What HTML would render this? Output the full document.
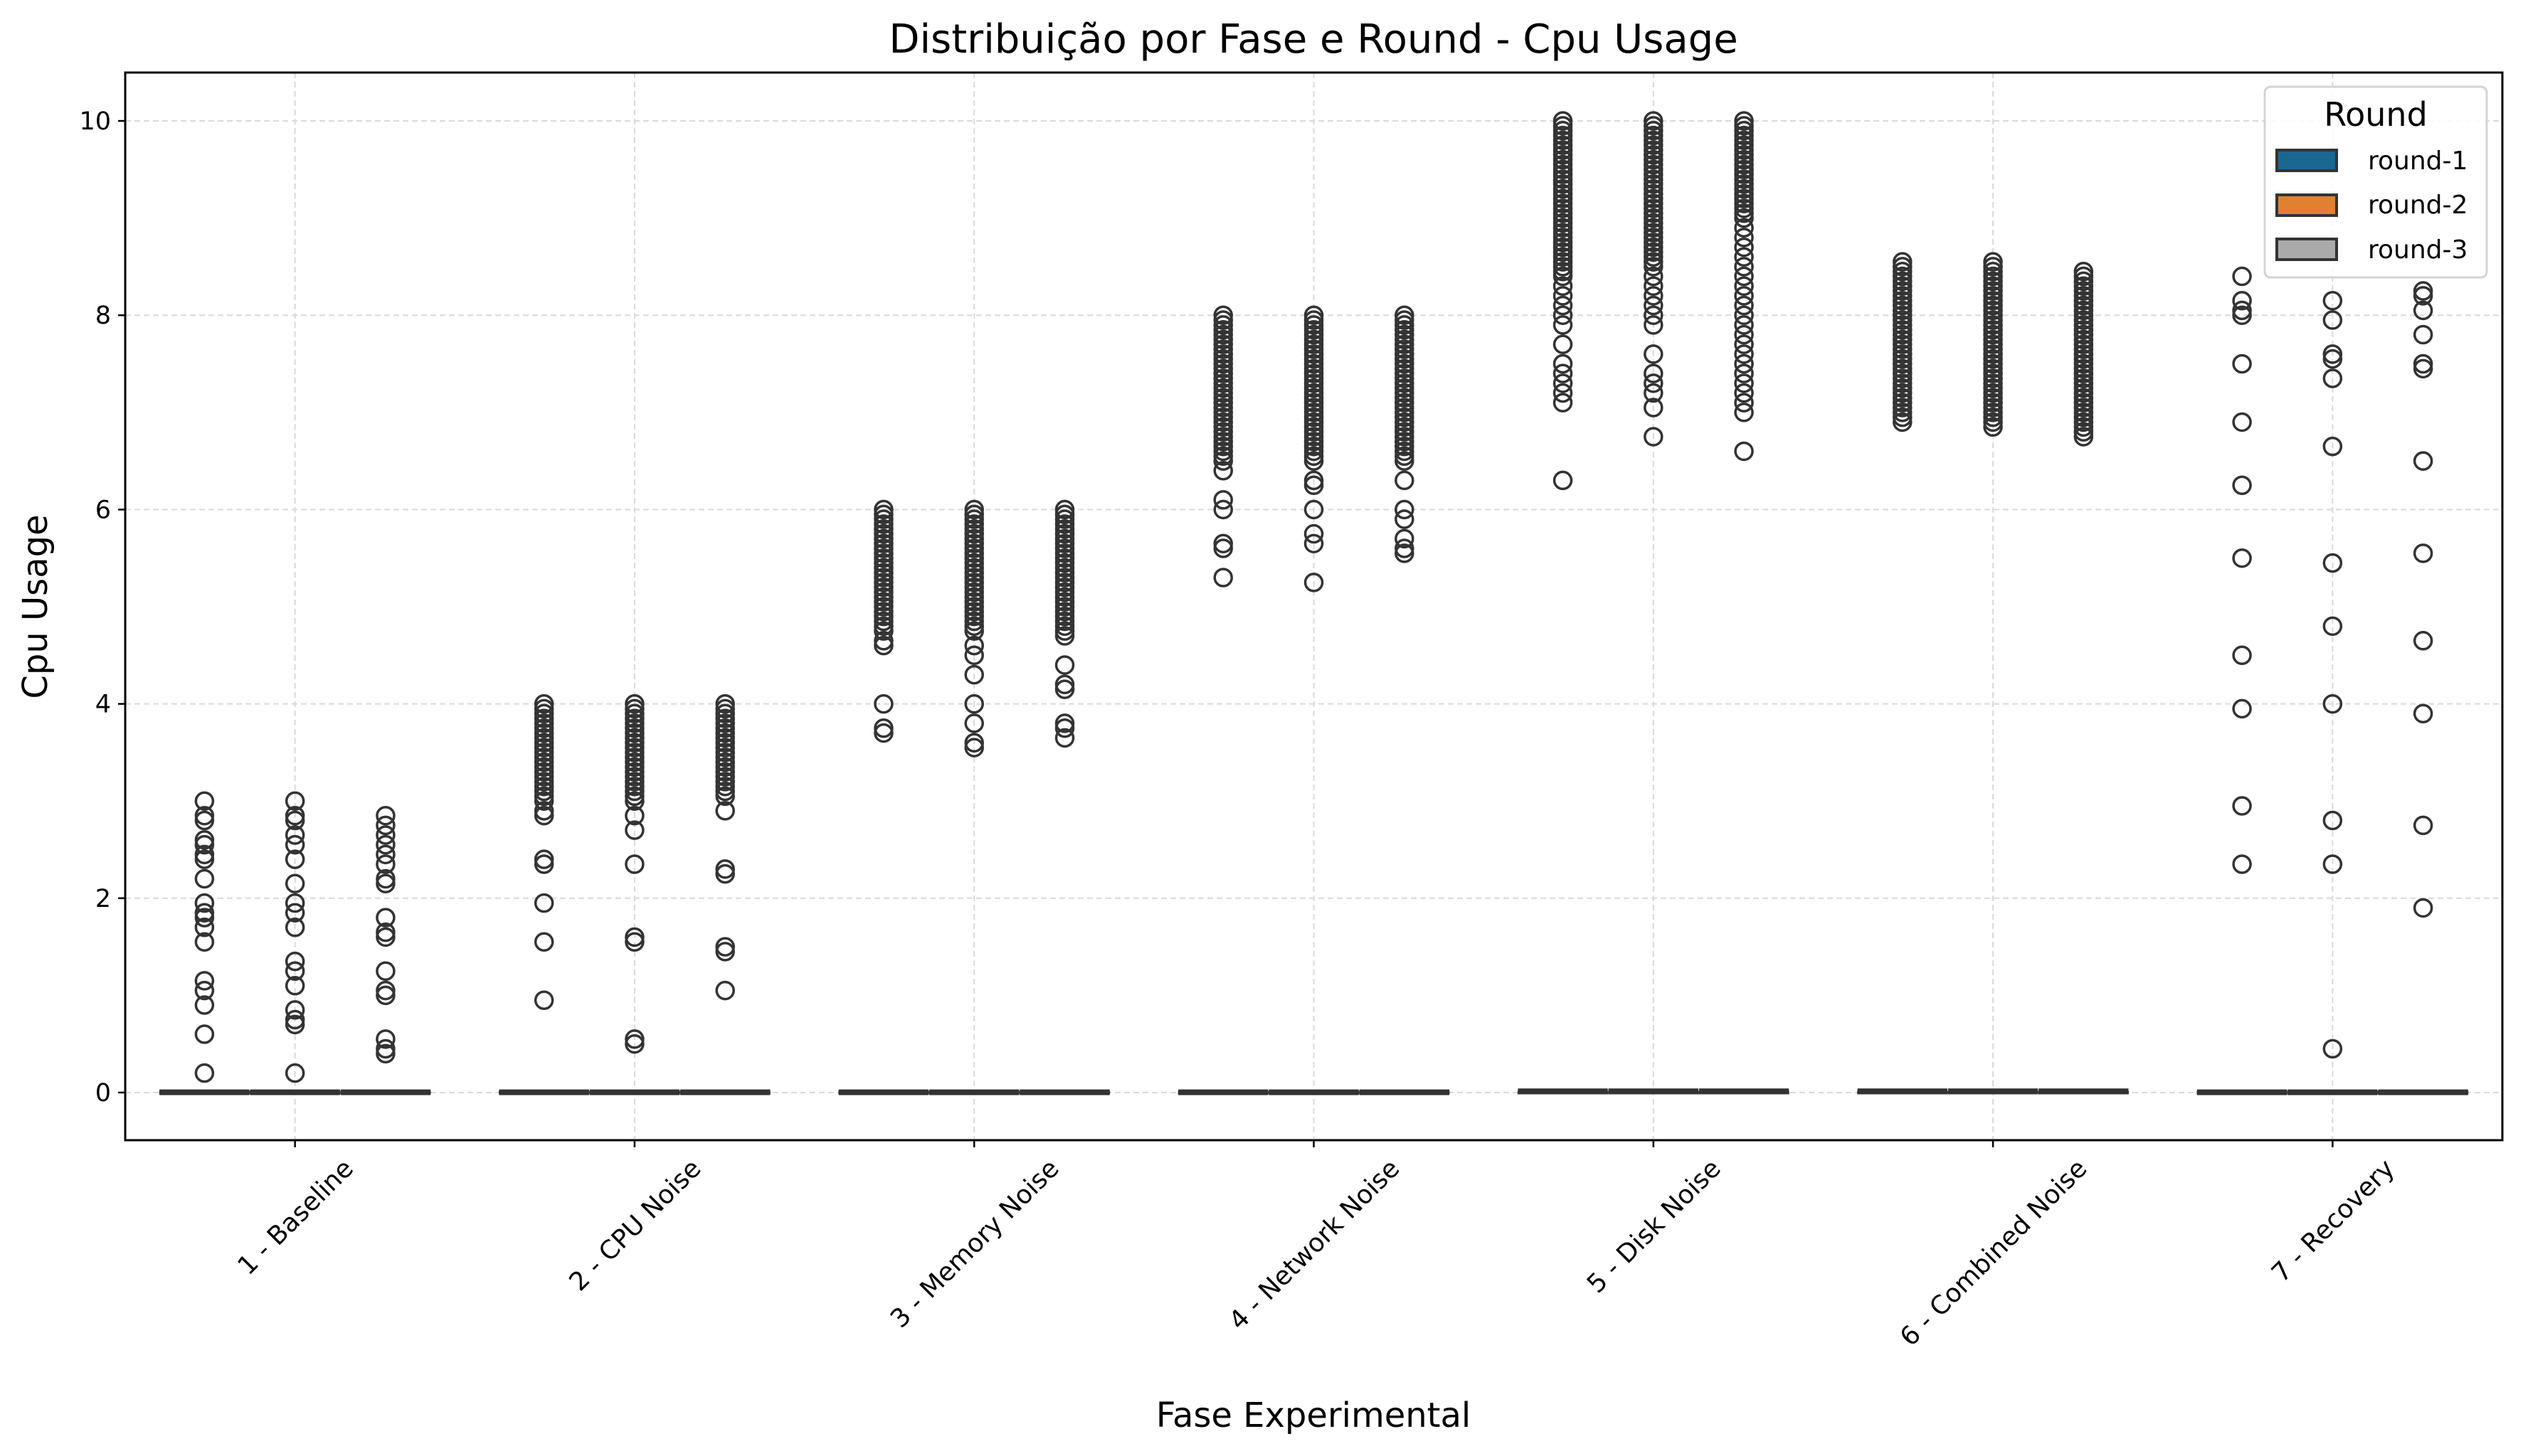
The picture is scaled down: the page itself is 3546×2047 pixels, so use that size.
<!DOCTYPE html>
<html><head><meta charset="utf-8"><style>
body{margin:0;background:#fff}
svg{display:block;font-family:"DejaVu Sans","Liberation Sans",sans-serif}
</style></head><body>
<svg id="chart" width="3546" height="2047" viewBox="0 0 3546 2047">
<rect x="0" y="0" width="3546" height="2047" fill="#fff"/>
<g id="grid"></g><g id="boxes"></g><g id="pts"></g><g id="axes"></g>
<text x="1846" y="74" font-size="56" text-anchor="middle" fill="#000">Distribuição por Fase e Round - Cpu Usage</text>
<text x="1846" y="2006" font-size="48" text-anchor="middle" fill="#000">Fase Experimental</text>
<text transform="translate(66,853) rotate(-90)" font-size="48" text-anchor="middle" fill="#000">Cpu Usage</text>
<g>
<rect x="3183" y="122" width="312" height="268" rx="8" fill="#fff" fill-opacity="0.85" stroke="#d4d4d4" stroke-width="3"/>
<text x="3339" y="177" font-size="46" text-anchor="middle" fill="#000">Round</text>
<g><rect x="3200" y="211" width="84" height="29" fill="#1a6792" stroke="#333" stroke-width="4"/><text x="3328" y="238" font-size="36" fill="#000">round-1</text></g>
<g><rect x="3200" y="274" width="84" height="29" fill="#e0812f" stroke="#333" stroke-width="4"/><text x="3328" y="300" font-size="36" fill="#000">round-2</text></g>
<g><rect x="3200" y="336" width="84" height="29" fill="#aaaaaa" stroke="#333" stroke-width="4"/><text x="3328" y="363" font-size="36" fill="#000">round-3</text></g>
</g>
</svg>
<script>
const categories=["1 - Baseline","2 - CPU Noise","3 - Memory Noise","4 - Network Noise","5 - Disk Noise","6 - Combined Noise","7 - Recovery"];
const rounds=["round-1","round-2","round-3"];
const yTicks=[0,2,4,6,8,10];
const medians=[[0,0,0],[0,0,0],[0,0,0],[0,0,0],[0,0,0],[0,0,0],[0,0,0]];
const q1s=[[0,0,0],[0,0,0],[0,0,0],[0,0,0],[0,0,0],[0,0,0],[0,0,0]];
const q3s=[[0.01,0.01,0.01],[0.01,0.01,0.01],[0.01,0.01,0.01],[0.01,0.01,0.01],[0.02,0.02,0.02],[0.02,0.02,0.02],[0.01,0.01,0.01]];
const baselineOut=[[3.0,2.85,2.8,2.6,2.55,2.45,2.4,2.2,1.95,1.85,1.8,1.7,1.55,1.15,1.05,0.9,0.6,0.2],[3.0,2.85,2.8,2.65,2.55,2.4,2.15,1.95,1.85,1.7,1.35,1.25,1.1,0.85,0.75,0.7,0.2],[2.85,2.75,2.65,2.55,2.45,2.35,2.2,2.15,1.8,1.65,1.6,1.25,1.05,1.0,0.55,0.45,0.4]];
const cpuOut=[[4.0,3.95,3.9,3.85,3.8,3.75,3.7,3.65,3.6,3.55,3.5,3.45,3.4,3.35,3.3,3.25,3.2,3.15,3.1,3.05,3.0,2.9,2.85,2.4,2.35,1.95,1.55,0.95],[4.0,3.95,3.9,3.85,3.8,3.75,3.7,3.65,3.6,3.55,3.5,3.45,3.4,3.35,3.3,3.25,3.2,3.15,3.1,3.05,3.0,2.85,2.7,2.35,1.6,1.55,0.55,0.5],[4.0,3.95,3.9,3.85,3.8,3.75,3.7,3.65,3.6,3.55,3.5,3.45,3.4,3.35,3.3,3.25,3.2,3.15,3.1,3.05,2.9,2.3,2.25,1.5,1.45,1.05]];
const memOut=[[6.0,5.95,5.9,5.85,5.8,5.75,5.7,5.65,5.6,5.55,5.5,5.45,5.4,5.35,5.3,5.25,5.2,5.15,5.1,5.05,5.0,4.95,4.9,4.85,4.8,4.75,4.65,4.6,4.0,3.75,3.7],[6.0,5.95,5.9,5.85,5.8,5.75,5.7,5.65,5.6,5.55,5.5,5.45,5.4,5.35,5.3,5.25,5.2,5.15,5.1,5.05,5.0,4.95,4.9,4.85,4.8,4.75,4.6,4.5,4.3,4.0,3.8,3.6,3.55],[6.0,5.95,5.9,5.85,5.8,5.75,5.7,5.65,5.6,5.55,5.5,5.45,5.4,5.35,5.3,5.25,5.2,5.15,5.1,5.05,5.0,4.95,4.9,4.85,4.8,4.75,4.7,4.4,4.2,4.15,3.8,3.75,3.65]];
const netOut=[[8.0,7.95,7.9,7.85,7.8,7.75,7.7,7.65,7.6,7.55,7.5,7.45,7.4,7.35,7.3,7.25,7.2,7.15,7.1,7.05,7.0,6.95,6.9,6.85,6.8,6.75,6.7,6.65,6.6,6.55,6.5,6.4,6.1,6.0,5.65,5.6,5.3],[8.0,7.95,7.9,7.85,7.8,7.75,7.7,7.65,7.6,7.55,7.5,7.45,7.4,7.35,7.3,7.25,7.2,7.15,7.1,7.05,7.0,6.95,6.9,6.85,6.8,6.75,6.7,6.65,6.6,6.55,6.5,6.3,6.25,6.0,5.75,5.65,5.25],[8.0,7.95,7.9,7.85,7.8,7.75,7.7,7.65,7.6,7.55,7.5,7.45,7.4,7.35,7.3,7.25,7.2,7.15,7.1,7.05,7.0,6.95,6.9,6.85,6.8,6.75,6.7,6.65,6.6,6.55,6.5,6.3,6.0,5.9,5.7,5.6,5.55]];
const diskOut=[[10.0,9.95,9.9,9.85,9.8,9.75,9.7,9.65,9.6,9.55,9.5,9.45,9.4,9.35,9.3,9.25,9.2,9.15,9.1,9.05,9.0,8.95,8.9,8.85,8.8,8.75,8.7,8.65,8.6,8.55,8.5,8.45,8.4,8.3,8.2,8.1,8.0,7.9,7.7,7.5,7.4,7.3,7.2,7.1,6.3],[10.0,9.95,9.9,9.85,9.8,9.75,9.7,9.65,9.6,9.55,9.5,9.45,9.4,9.35,9.3,9.25,9.2,9.15,9.1,9.05,9.0,8.95,8.9,8.85,8.8,8.75,8.7,8.65,8.6,8.55,8.5,8.4,8.3,8.2,8.1,8.0,7.9,7.6,7.4,7.3,7.2,7.05,6.75],[10.0,9.95,9.9,9.85,9.8,9.75,9.7,9.65,9.6,9.55,9.5,9.45,9.4,9.35,9.3,9.25,9.2,9.15,9.1,9.05,9.0,8.9,8.8,8.7,8.6,8.5,8.4,8.3,8.2,8.1,8.0,7.9,7.8,7.7,7.6,7.5,7.4,7.3,7.2,7.1,7.0,6.6]];
const combOut=[[8.55,8.5,8.45,8.4,8.35,8.3,8.25,8.2,8.15,8.1,8.05,8.0,7.95,7.9,7.85,7.8,7.75,7.7,7.65,7.6,7.55,7.5,7.45,7.4,7.35,7.3,7.25,7.2,7.15,7.1,7.05,7.0,6.95,6.9],[8.55,8.5,8.45,8.4,8.35,8.3,8.25,8.2,8.15,8.1,8.05,8.0,7.95,7.9,7.85,7.8,7.75,7.7,7.65,7.6,7.55,7.5,7.45,7.4,7.35,7.3,7.25,7.2,7.15,7.1,7.05,7.0,6.95,6.9,6.85],[8.45,8.4,8.35,8.3,8.25,8.2,8.15,8.1,8.05,8.0,7.95,7.9,7.85,7.8,7.75,7.7,7.65,7.6,7.55,7.5,7.45,7.4,7.35,7.3,7.25,7.2,7.15,7.1,7.05,7.0,6.95,6.9,6.85,6.8,6.75]];
const recOut=[[8.4,8.15,8.05,8.0,7.5,6.9,6.25,5.5,4.5,3.95,2.95,2.35],[8.15,7.95,7.6,7.55,7.35,6.65,5.45,4.8,4.0,2.8,2.35,0.45],[8.25,8.2,8.05,7.8,7.5,7.45,6.5,5.55,4.65,3.9,2.75,1.9]];
const outliers=[baselineOut,cpuOut,memOut,netOut,diskOut,combOut,recOut];

const NS="http://www.w3.org/2000/svg";
const L=176,R=3517,T=102,B=1603,Y0=1536,Y10=170;
const xScale=i=>L+(i+0.5)*(R-L)/categories.length;
const yScale=v=>Y0+(Y10-Y0)*v/10;
const step=(R-L)/categories.length;
const bw=step*0.8/rounds.length;
function mk(tag,attrs,parent){const e=document.createElementNS(NS,tag);for(const k in attrs)e.setAttribute(k,attrs[k]);parent.appendChild(e);return e;}
const grid=document.getElementById('grid'),boxes=document.getElementById('boxes'),pts=document.getElementById('pts'),axes=document.getElementById('axes');
yTicks.forEach(t=>{
  const y=yScale(t);
  const g=mk('line',{x1:L,x2:R,y1:y,y2:y,stroke:'#d9d9d9','stroke-width':2,'stroke-dasharray':'8,5'},grid);
  
  
  const tk=mk('line',{x1:L-10,x2:L,y1:y,y2:y,stroke:'#000','stroke-width':2.5},axes);
  
  
  const tx=mk('text',{x:L-20,y:y+12,'font-size':35,'text-anchor':'end',fill:'#000'},axes);
  tx.textContent=t;
  
  
});
categories.forEach((c,i)=>{
  const x=xScale(i);
  const g=mk('line',{x1:x,x2:x,y1:T,y2:B,stroke:'#d9d9d9','stroke-width':2,'stroke-dasharray':'8,5'},grid);
  
  
  const tk=mk('line',{x1:x,x2:x,y1:B,y2:B+10,stroke:'#000','stroke-width':2.5},axes);
  
  
  const tx=mk('text',{'font-size':36,'text-anchor':'middle',fill:'#000'},axes);
  tx.textContent=c;
  
  
  const len=tx.getComputedTextLength();
  const h=(len+36)*0.7071;
  const cy=B+20+h/2;
  tx.setAttribute('x',x);tx.setAttribute('y',cy+13);
  tx.setAttribute('transform','rotate(-45 '+x+' '+cy+')');
  rounds.forEach((r,j)=>{
    const cx=x+(j-1)*bw;
    const yq1=yScale(q1s[i][j]),yq3=yScale(q3s[i][j]);
    const hgt=Math.max(Math.abs(yq1-yq3),5);
    const b=mk('rect',{x:cx-bw/2+2,y:Math.min(yq1,yq3)-hgt/2+1,width:bw-4,height:hgt,fill:'#333',stroke:'#333','stroke-width':3},boxes);
    
    
    const m=mk('line',{x1:cx-bw/2,x2:cx+bw/2,y1:yScale(medians[i][j]),y2:yScale(medians[i][j]),stroke:'#333','stroke-width':5},boxes);
    
    
    outliers[i][j].forEach(v=>{
      const p=mk('circle',{cx:cx,cy:yScale(v),r:12,fill:'none',stroke:'#333','stroke-width':3.5},pts);
      
      
    });
  });
});
const fr=mk('rect',{x:L,y:T,width:R-L,height:B-T,fill:'none',stroke:'#000','stroke-width':3},axes);


</script>
</body></html>
